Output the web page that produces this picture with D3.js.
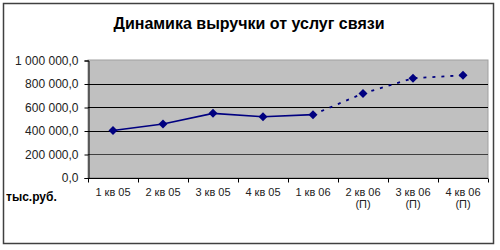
<!DOCTYPE html>
<html><head><meta charset="utf-8">
<script src="https://cdn.jsdelivr.net/npm/d3@7"></script>
<style>body{margin:0;background:#fff}svg{display:block}</style>
</head><body>
<script>
const categories = [["1 кв 05"],["2 кв 05"],["3 кв 05"],["4 кв 05"],["1 кв 06"],["2 кв 06","(П)"],["3 кв 06","(П)"],["4 кв 06","(П)"]];
const revenue = [400000, 455000, 546000, 517000, 535000, 715000, 845000, 870000];
const forecastStart = 4; // index from which the line is a forecast (dotted)
const yTicks = [0, 200000, 400000, 600000, 800000, 1000000];
const title = "Динамика выручки от услуг связи";
const unitLabel = "тыс.руб.";

const W = 500, H = 250;
const svg = d3.select("body").append("svg").attr("width", W).attr("height", H);
svg.append("rect").attr("width", W).attr("height", H).attr("fill", "#fff");

// outer frame
svg.append("rect").attr("x", 3.5).attr("y", 3.5).attr("width", 490).attr("height", 240)
  .attr("fill", "none").attr("stroke", "#404040").attr("stroke-width", 1.5);

const plot = {x0: 88, x1: 488, y0: 60, y1: 177.5};
const x = d3.scaleBand().domain(d3.range(categories.length)).range([plot.x0, plot.x1]);
const y = d3.scaleLinear().domain([0, 1000000]).range([plot.y1, plot.y0]);

// plot background
svg.append("rect").attr("x", plot.x0).attr("y", plot.y0)
  .attr("width", plot.x1 - plot.x0).attr("height", plot.y1 - plot.y0)
  .attr("fill", "#c0c0c0").attr("stroke", "#a0a0a0").attr("stroke-width", 1);

// gridlines
svg.append("g").selectAll("line").data(yTicks.filter(v => v > 0 && v < 1000000)).join("line")
  .attr("x1", plot.x0).attr("x2", plot.x1)
  .attr("y1", d => Math.round(y(d)) + 0.5).attr("y2", d => Math.round(y(d)) + 0.5)
  .attr("stroke", (d) => d === 200000 ? "#404040" : "#000").attr("stroke-width", 1);

const fmt = v => d3.format(",.1f")(v).replace(/,/g, " ").replace(".", ",");

// y axis
const yAxis = d3.axisLeft(y).tickValues(yTicks).tickSize(4).tickPadding(6).tickFormat(fmt);
const gy = svg.append("g").attr("transform", `translate(${plot.x0 + 0.5},0.5)`).call(yAxis);
gy.select(".domain").attr("stroke", "#000");
gy.selectAll(".tick line").attr("stroke", "#000");
gy.selectAll("text").attr("font-family", "Arial, 'Liberation Sans', sans-serif")
  .attr("font-size", 12).attr("fill", "#222");

// x axis: ticks at category boundaries
const gx = svg.append("g").attr("transform", `translate(0,${Math.round(plot.y1) + 0.5})`);
gx.append("line").attr("x1", plot.x0).attr("x2", plot.x1).attr("stroke", "#000");
const bounds = d3.range(categories.length + 1).map(i => i < categories.length ? x(i) : x(i - 1) + x.bandwidth());
gx.selectAll("line.tk").data(bounds).join("line").attr("class", "tk")
  .attr("x1", d => Math.round(d) + 0.5).attr("x2", d => Math.round(d) + 0.5)
  .attr("y1", 0).attr("y2", 4).attr("stroke", "#000");
const labels = gx.selectAll("text").data(categories).join("text")
  .attr("x", (d, i) => x(i) + x.bandwidth() / 2)
  .attr("y", 17)
  .attr("text-anchor", "middle")
  .attr("font-family", "Arial, 'Liberation Sans', sans-serif")
  .attr("font-size", 11).attr("fill", "#222");
labels.selectAll("tspan").data(d => d).join("tspan")
  .attr("x", function() { return this.parentNode.getAttribute("x"); })
  .attr("dy", (d, i) => i === 0 ? 0 : 12)
  .text(d => d);

// line
const pts = revenue.map((v, i) => [x(i) + x.bandwidth() / 2, y(v)]);
const line = d3.line();
svg.append("path").attr("d", line(pts.slice(0, forecastStart + 1)))
  .attr("fill", "none").attr("stroke", "#000080").attr("stroke-width", 1.6);
svg.append("path").attr("d", line(pts.slice(forecastStart)))
  .attr("fill", "none").attr("stroke", "#000080").attr("stroke-width", 1.8)
  .attr("stroke-dasharray", "3,6");

// markers
svg.append("g").selectAll("path").data(pts).join("path")
  .attr("transform", d => `translate(${d[0]},${d[1]})`)
  .attr("d", "M0,-4.5L4.5,0L0,4.5L-4.5,0Z")
  .attr("fill", "#000080");

// title
svg.append("text").attr("x", 249).attr("y", 29).attr("text-anchor", "middle")
  .attr("font-family", "Arial, 'Liberation Sans', sans-serif").attr("font-weight", "bold")
  .attr("font-size", 16).attr("fill", "#000").text(title);

// unit label
svg.append("text").attr("x", 6).attr("y", 201)
  .attr("font-family", "Arial, 'Liberation Sans', sans-serif").attr("font-weight", "bold")
  .attr("font-size", 12).attr("fill", "#000").text(unitLabel);
</script>
</body></html>
